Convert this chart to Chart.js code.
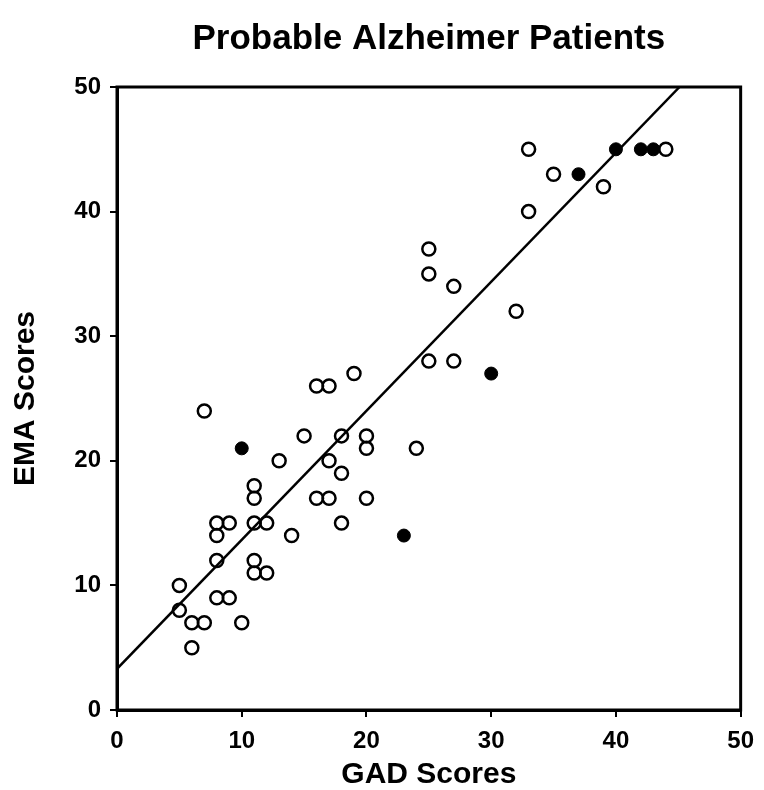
<!DOCTYPE html>
<html>
<head>
<meta charset="utf-8">
<script src="https://cdn.jsdelivr.net/npm/chart.js@4.4.1/dist/chart.umd.min.js"></script>
<style>
  html, body { margin: 0; padding: 0; background: #fff; }
</style>
</head>
<body>
<canvas id="graficoDisp" width="764" height="790"></canvas>
<script>
// open circles
const openGad = [7, 15, 18, 20, 20, 24, 13, 17, 18, 11, 11, 16, 17, 20, 8, 9, 8, 11, 12, 18, 14, 8, 11, 11, 12, 5, 8, 9, 5, 6, 7, 10, 6, 16, 17, 19, 33, 35, 44, 39, 33, 25, 25, 27, 32, 25, 27];
const openEma = [24, 22, 22, 22, 21, 21, 20, 20, 19, 18, 17, 17, 17, 17, 15, 15, 14, 15, 15, 15, 14, 12, 12, 11, 11, 10, 9, 9, 8, 7, 7, 7, 5, 26, 26, 27, 45, 43, 45, 42, 40, 37, 35, 34, 32, 28, 28];
// filled dots
const filledGad = [10, 23, 30, 37, 40, 42, 43];
const filledEma = [21, 14, 27, 43, 45, 45, 45];
// regression line ends
const fitGad = [0, 45.1];
const fitEma = [3.3, 50];
const tickValues = [0, 10, 20, 30, 40, 50];

function pares(xs, ys) {
    return xs.map((x, i) => ({ x: x, y: ys[i] }));
}

const moldura = {
    id: 'moldura',
    afterDatasetsDraw(chart) {
        const { ctx, chartArea: a } = chart;
        ctx.save();
        ctx.strokeStyle = '#000';
        ctx.lineWidth = 3;
        ctx.strokeRect(a.left, a.top, a.right - a.left, a.bottom - a.top);
        ctx.restore();
    }
};

const fonte = 'Liberation Sans, Arial, sans-serif';

const data = {
    datasets: [
        {
            label: 'open',
            data: pares(openGad, openEma),
            pointStyle: 'circle',
            pointRadius: 6.5,
            pointBorderWidth: 2.5,
            pointBorderColor: '#000',
            pointBackgroundColor: 'rgba(0,0,0,0)',
            order: 1
        },
        {
            label: 'filled',
            data: pares(filledGad, filledEma),
            pointStyle: 'circle',
            pointRadius: 6.5,
            pointBorderWidth: 1,
            pointBorderColor: '#000',
            pointBackgroundColor: '#000',
            order: 1
        },
        {
            label: 'fit',
            type: 'line',
            data: pares(fitGad, fitEma),
            borderColor: '#000',
            borderWidth: 2.5,
            pointRadius: 0,
            fill: false,
            order: 2
        }
    ]
};

const config = {
    type: 'scatter',
    data: data,
    options: {
        responsive: false,
        animation: false,
        layout: { padding: { left: 0, right: 21, top: 0, bottom: 0 } },
        scales: {
            x: {
                type: 'linear',
                min: 0,
                max: 50,
                afterBuildTicks: s => { s.ticks = tickValues.map(v => ({ value: v })); },
                afterFit: s => { s.height = 80; },
                border: { display: true, color: '#000', width: 3 },
                grid: { display: true, drawOnChartArea: false, drawTicks: true, tickLength: 7, color: '#000', lineWidth: 2 },
                ticks: { color: '#000', padding: 10, maxRotation: 0, font: { family: fonte, size: 24, weight: 'bold' } },
                title: { display: true, text: 'GAD Scores', color: '#000', padding: { top: 0, bottom: 0 }, font: { family: fonte, size: 30, weight: 'bold', lineHeight: 1.0 } }
            },
            y: {
                type: 'linear',
                min: 0,
                max: 50,
                afterBuildTicks: s => { s.ticks = tickValues.map(v => ({ value: v })); },
                afterFit: s => { s.width = 117; },
                border: { display: true, color: '#000', width: 3 },
                grid: { display: true, drawOnChartArea: false, drawTicks: true, tickLength: 7, color: '#000', lineWidth: 2 },
                ticks: { color: '#000', padding: 9, font: { family: fonte, size: 24, weight: 'bold' } },
                title: { display: true, text: 'EMA Scores', color: '#000', padding: { top: 8, bottom: 0 }, font: { family: fonte, size: 30, weight: 'bold' } }
            }
        },
        plugins: {
            legend: { display: false },
            tooltip: { enabled: false },
            title: {
                display: true,
                fullSize: false,
                text: 'Probable Alzheimer Patients',
                color: '#000',
                padding: { top: 18, bottom: 27 },
                font: { family: fonte, size: 35, weight: 'bold' }
            }
        }
    },
    plugins: [moldura]
};

const graficoDisp = new Chart(document.getElementById('graficoDisp'), config);
</script>
</body>
</html>
